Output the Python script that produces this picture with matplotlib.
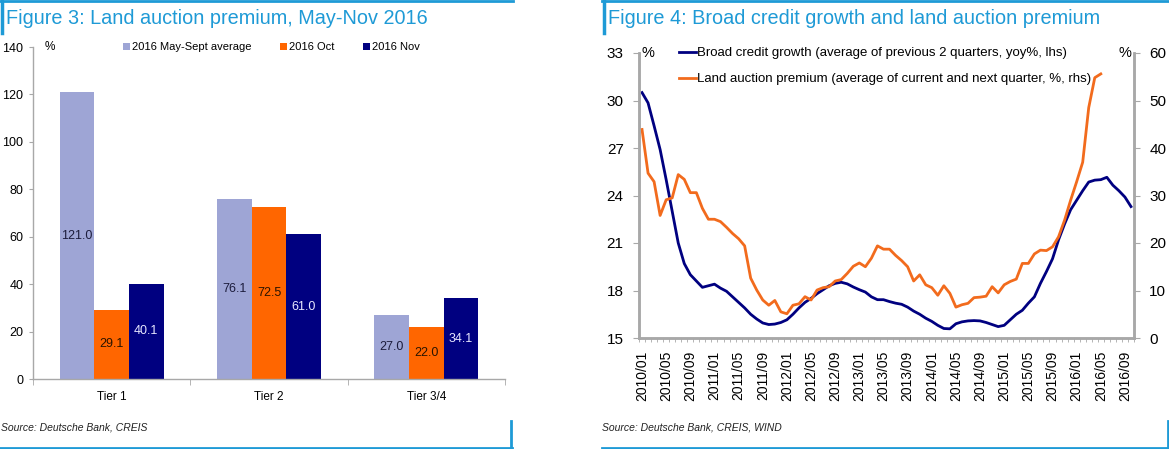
import matplotlib
matplotlib.use("Agg")
import matplotlib.pyplot as plt
from matplotlib.lines import Line2D
from matplotlib.patches import Patch
import numpy as np
import pandas as pd

plt.rcParams['font.family'] = ['Liberation Sans', 'DejaVu Sans']

# ---- Figure 3 data ----
tiers = ["Tier 1", "Tier 2", "Tier 3/4"]
may_sept_avg = [121.0, 76.1, 27.0]
oct_2016 = [29.1, 72.5, 22.0]
nov_2016 = [40.1, 61.0, 34.1]
bar_series = ["2016 May-Sept average", "2016 Oct", "2016 Nov"]

# ---- Figure 4 data (monthly, 2010/01 .. 2016/10) ----
months = [d.strftime("%Y/%m") for d in pd.date_range("2010-01-01", "2016-10-01", freq="MS")]
credit_growth = [
    30.5, 29.85, 28.4, 26.9, 25.0, 23.0, 21.0, 19.7, 19.0, 18.6,
    18.2, 18.3, 18.4, 18.15, 17.95, 17.6, 17.25, 16.9, 16.5, 16.2,
    15.95, 15.85, 15.88, 15.98, 16.15, 16.5, 16.9, 17.25, 17.5, 17.8,
    18.05, 18.3, 18.45, 18.52, 18.42, 18.22, 18.05, 17.9, 17.6, 17.42,
    17.42, 17.3, 17.2, 17.13, 16.95, 16.7, 16.5, 16.25, 16.05, 15.8,
    15.6, 15.58, 15.9, 16.02, 16.08, 16.1, 16.08, 15.98, 15.85, 15.72,
    15.8, 16.15, 16.5, 16.75, 17.2, 17.6, 18.45, 19.2, 20.0, 21.2,
    22.2, 23.1, 23.7, 24.3, 24.85, 24.97, 25.0, 25.15, 24.65, 24.3,
    23.9, 23.3,
]
land_premium = [
    43.9, 34.7, 32.9, 25.8, 29.1, 29.5, 34.4, 33.4, 30.6, 30.6,
    27.3, 25.0, 25.0, 24.5, 23.3, 22.0, 20.9, 19.4, 12.6, 10.1,
    8.0, 6.9, 7.9, 5.5, 5.1, 6.9, 7.2, 8.7, 8.0, 10.1,
    10.6, 10.8, 12.0, 12.3, 13.6, 15.1, 15.8, 15.0, 16.8, 19.4,
    18.7, 18.7, 17.4, 16.3, 15.0, 12.0, 13.3, 11.2, 10.6, 9.0,
    11.0, 9.4, 6.5, 7.0, 7.3, 8.5, 8.6, 8.8, 10.8, 9.5,
    11.2, 11.9, 12.4, 15.7, 15.7, 17.7, 18.5, 18.4, 19.2, 21.3,
    24.8, 29.0, 32.9, 37.0, 48.5, 54.8, 55.6,
]

W, H = 1169, 449
fig = plt.figure(figsize=(W / 100, H / 100), dpi=100)

DB_BLUE = "#1E9AD6"
LAV = "#9EA5D5"
ORANGE = "#FF6600"
NAVY = "#000080"
LINE_ORANGE = "#F26B1D"
GREY = "#A8A8A8"


def fx(px):
    return px / W


def fy(py):
    return 1 - py / H


def deco_line(x0, y0, x1, y1, lw=2.0):
    fig.add_artist(Line2D([fx(x0), fx(x1)], [fy(y0), fy(y1)], color=DB_BLUE, lw=lw,
                          transform=fig.transFigure))


# panel frames
deco_line(0, 1, 513, 1)
deco_line(1.5, 0, 1.5, 33, lw=2.5)
deco_line(0, 447.5, 512, 447.5)
deco_line(510.5, 421, 510.5, 448, lw=2)
deco_line(602, 1, 1169, 1)
deco_line(603.5, 0, 603.5, 33, lw=2.5)
deco_line(602, 447.5, 1169, 447.5)
deco_line(1167.5, 421, 1167.5, 448, lw=2)

fig.text(fx(6), fy(19), "Figure 3: Land auction premium, May-Nov 2016", color=DB_BLUE,
         fontsize=14.3, va="center", ha="left")
fig.text(fx(608), fy(19), "Figure 4: Broad credit growth and land auction premium", color=DB_BLUE,
         fontsize=14.3, va="center", ha="left")
fig.text(fx(1), fy(428), "Source: Deutsche Bank, CREIS", fontsize=7.5, style="italic",
         va="center", ha="left", color="#222222")
fig.text(fx(602), fy(428), "Source: Deutsche Bank, CREIS, WIND", fontsize=7.5, style="italic",
         va="center", ha="left", color="#222222")

# ---------------- Figure 3: bars ----------------
ax1 = fig.add_axes([fx(33), fy(379), fx(505) - fx(33), fy(47) - fy(379)])
x = np.arange(len(tiers))
bw = 0.22
series = [may_sept_avg, oct_2016, nov_2016]
colors = [LAV, ORANGE, NAVY]
label_colors = ["#1c1c3c", "#2a1400", "#e8e8ff"]
for k, (vals, c, lc) in enumerate(zip(series, colors, label_colors)):
    xs = x + (k - 1) * bw
    ax1.bar(xs, vals, width=bw, color=c, edgecolor="none")
    for xi, v in zip(xs, vals):
        ax1.text(xi, v / 2, f"{v:.1f}", ha="center", va="center", fontsize=9, color=lc)

ax1.set_xlim(-0.5, 2.5)
ax1.set_ylim(0, 140)
ax1.set_yticks(range(0, 141, 20))
ax1.set_xticks(x)
ax1.set_xticklabels(tiers)
ax1.set_xticks([-0.5, 0.5, 1.5, 2.5], minor=True)
ax1.tick_params(axis="x", which="major", length=0, labelsize=8.5, pad=9)
ax1.tick_params(axis="x", which="minor", length=4, color=GREY, direction="out")
ax1.tick_params(axis="y", length=3, color=GREY, labelsize=9, pad=4)
for s in ["top", "right"]:
    ax1.spines[s].set_visible(False)
for s in ["left", "bottom"]:
    ax1.spines[s].set_color(GREY)
    ax1.spines[s].set_linewidth(1.0)
fig.text(fx(45), fy(47), "%", fontsize=8.5, va="center", ha="left")

handles = [Patch(facecolor=c, edgecolor="none") for c in colors]
fig.legend(handles, bar_series, loc="center left", bbox_to_anchor=(fx(123), fy(47)),
           ncol=3, frameon=False, fontsize=8, handlelength=0.6, handleheight=0.6,
           handletextpad=0.2, columnspacing=2.6, borderpad=0, borderaxespad=0)

# ---------------- Figure 4: lines ----------------
ax2 = fig.add_axes([fx(639), fy(338), fx(1134) - fx(639), fy(53) - fy(338)])
ax3 = ax2.twinx()
n = len(months)
xi = np.arange(n)
l1, = ax2.plot(xi[:len(credit_growth)], credit_growth, color=NAVY, lw=2.0)
l2, = ax3.plot(xi[:len(land_premium)], land_premium, color=LINE_ORANGE, lw=2.0)

ax2.set_xlim(-0.5, n - 0.5)
ax2.set_ylim(15, 33)
ax2.set_yticks(range(15, 34, 3))
ax3.set_ylim(0, 60)
ax3.set_yticks(range(0, 61, 10))

ax2.set_xticks(xi[::4])
ax2.set_xticklabels(months[::4], rotation=90)
ax2.set_xticks(np.arange(-0.5, n, 1.0), minor=True)
ax2.tick_params(axis="x", which="major", length=0, labelsize=10, pad=9)
ax2.tick_params(axis="x", which="minor", length=3, color=GREY, direction="out")
ax2.tick_params(axis="y", length=4, color=GREY, labelsize=11, pad=7)
ax3.tick_params(axis="y", length=4, color=GREY, labelsize=11, pad=7)

for a in (ax2, ax3):
    a.spines["top"].set_visible(False)
    for s in ["left", "right", "bottom"]:
        a.spines[s].set_color(GREY)
        a.spines[s].set_linewidth(1.8)

fig.text(fx(641), fy(53), "%", fontsize=10.5, va="center", ha="left")
fig.text(fx(1131), fy(53), "%", fontsize=10.5, va="center", ha="right")

fig.legend([l1, l2],
           ["Broad credit growth (average of previous 2 quarters, yoy%, lhs)",
            "Land auction premium (average of current and next quarter, %, rhs)"],
           loc="upper left", bbox_to_anchor=(fx(679), fy(47)), frameon=False, fontsize=9.5,
           handlelength=1.3, handletextpad=0.05, labelspacing=1.05, borderpad=0,
           borderaxespad=0)

fig.savefig("out.png", dpi=100)
